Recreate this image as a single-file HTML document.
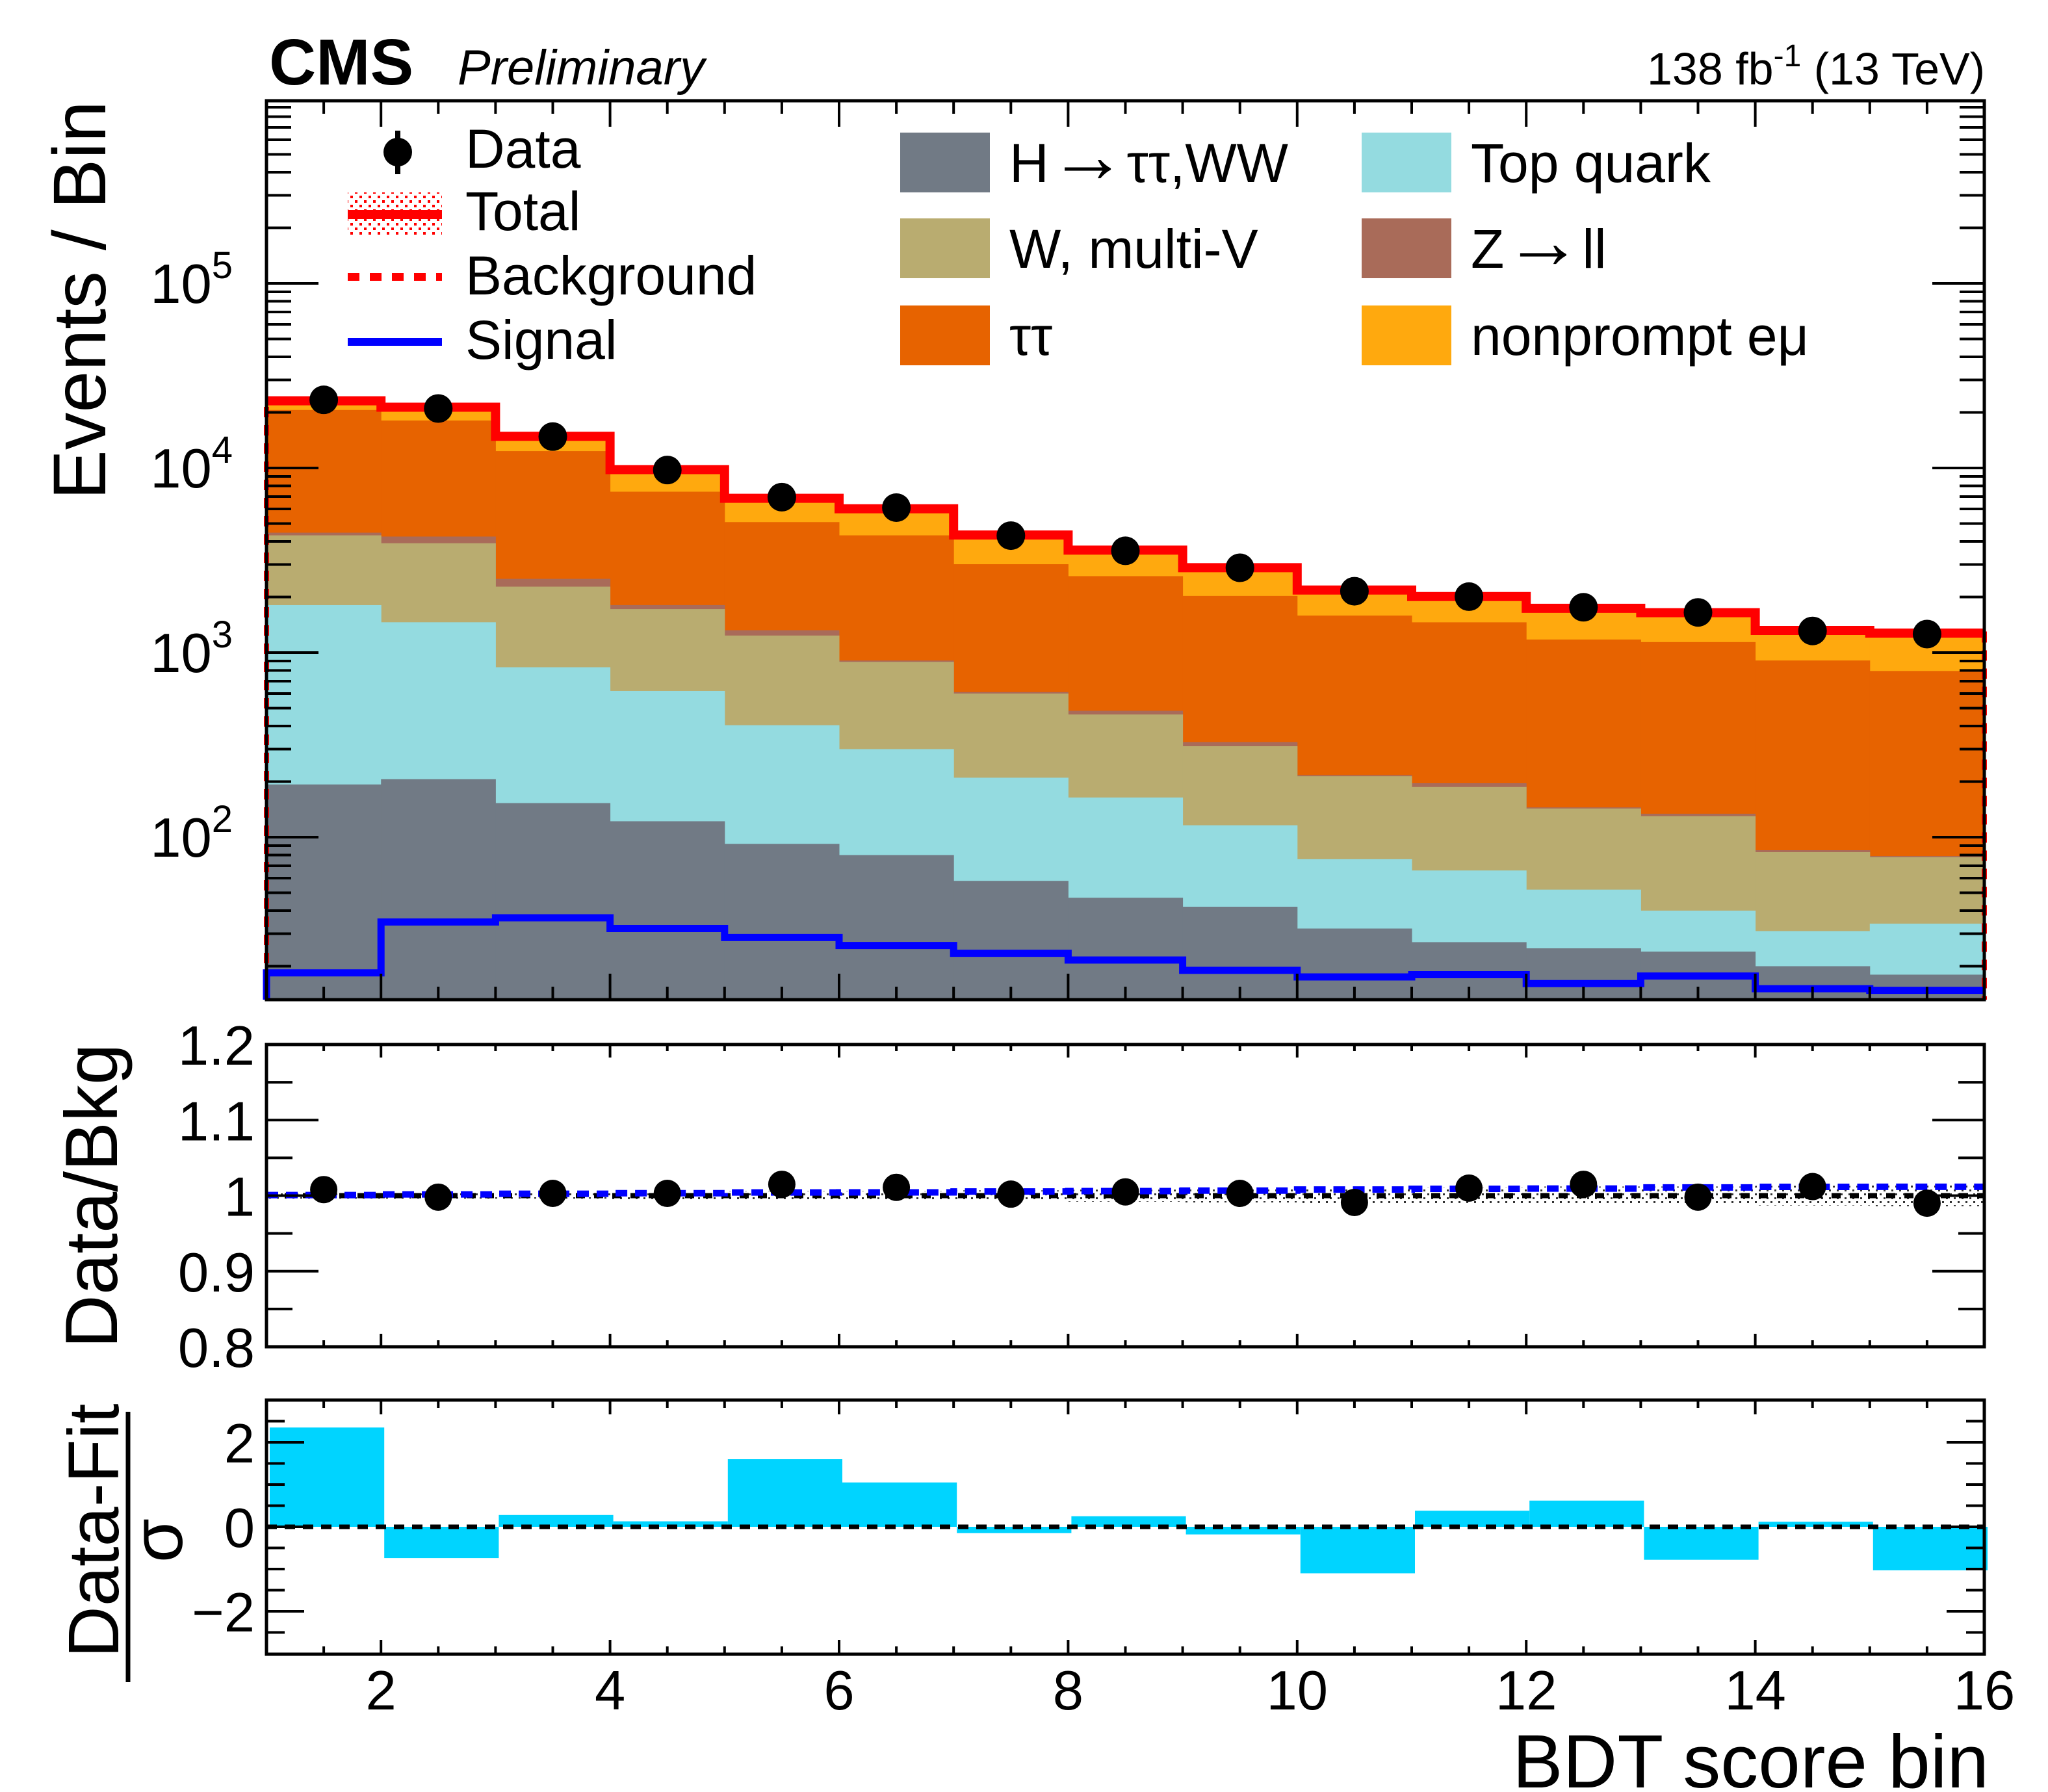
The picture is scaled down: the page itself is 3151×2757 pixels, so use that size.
<!DOCTYPE html>
<html><head><meta charset="utf-8"><style>
html,body{margin:0;padding:0;background:#fff;}
svg{display:block;font-family:"Liberation Sans",Arial,sans-serif;}
</style></head><body>
<svg id="chart" width="3151" height="2757" viewBox="0 0 3151 2757" xmlns="http://www.w3.org/2000/svg">
<defs>
<pattern id="dots" width="12" height="12" patternUnits="userSpaceOnUse"><rect x="0" y="0" width="3" height="3" fill="#333"/><rect x="6" y="6" width="3" height="3" fill="#333"/></pattern>
<pattern id="reddots" width="14" height="14" patternUnits="userSpaceOnUse"><rect x="0" y="0" width="4" height="4" fill="#f00"/><rect x="7" y="7" width="4" height="4" fill="#f00"/></pattern>
</defs>
<g id="g-main"></g>
<g id="g-ratio"></g>
<g id="g-pull"></g>
<g id="g-text">
<text x="414" y="130" font-size="100" font-weight="bold">CMS</text>
<text x="704" y="130" font-size="76" font-style="italic">Preliminary</text>
<text x="3054" y="130" font-size="70" text-anchor="end">138 fb<tspan dy="-28" font-size="48">-1</tspan><tspan dy="28"> (13 TeV)</tspan></text>
<text transform="translate(162,462) rotate(-90)" font-size="115" text-anchor="middle">Events / Bin</text>
<text transform="translate(180,1840) rotate(-90)" font-size="114" text-anchor="middle">Data/Bkg</text>
<text transform="translate(182,2355) rotate(-90)" font-size="110" text-anchor="middle">Data-Fit</text>
<line x1="197" y1="2172" x2="197" y2="2588" stroke="#000" stroke-width="7"/>
<text transform="translate(280,2370) rotate(-90)" font-size="110" text-anchor="middle">σ</text>
<text x="3060" y="2750" font-size="116" text-anchor="end">BDT score bin</text>
</g>
<g id="g-legend"></g>
</svg>
<script>
const binEdges = [1,2,3,4,5,6,7,8,9,10,11,12,13,14,15,16];
const hWW   = [193,206,153,122,92,80,58,47,42,32,27,25,24,20,18];
const topQ  = [1615,1254,680,498,312,220,152,117,74,44,39,27,16,11,16];
const wMultiV = [2508,2450,1443,1100,833,591,390,298,195,138,121,91,90,52,44];
const zll   = [146,342,233,89,85,15,11,22,16,3,9,2,4,2,1];
const tautau= [16150,13830,9830,5630,3770,3410,2400,2110,1700,1370,1263,1032,1006,821,716];
const nonprompt = [2490,3230,2470,2330,1730,1670,1300,975,838,578,535,544,487,396,465];
const signal = [18.4,34.7,36.6,32,28.6,25.9,23.5,21.6,19,17.5,18,16.1,17.7,15.1,14.8];
const dataVals = [23400,21000,14800,9750,6950,6100,4300,3560,2880,2150,2010,1760,1650,1310,1260];
const ratioVals = [1.008,0.998,1.003,1.003,1.015,1.011,1.002,1.005,1.003,0.991,1.010,1.015,0.998,1.012,0.990];
const ratioErr = [0.004,0.004,0.004,0.005,0.006,0.006,0.007,0.008,0.009,0.010,0.011,0.012,0.012,0.013,0.014];
const pullVals = [2.35,-0.74,0.28,0.13,1.6,1.05,-0.15,0.25,-0.18,-1.1,0.38,0.62,-0.78,0.12,-1.03];
const xTickLabels = [2,4,6,8,10,12,14,16];
const ratioTickLabels = ["0.8","0.9","1","1.1","1.2"];
const pullTickLabels = [-2,0,2];

const NS="http://www.w3.org/2000/svg";
const L=410,R=3053;
const MT=155,MB=1538, RT=1607,RB=2072, PT=2154,PB=2545;
const X=v=>L+(v-1)*(R-L)/15;
const Ymain=v=>436-(Math.log10(v)-5)*284;
const Yr=v=>RB-(v-0.8)/0.4*(RB-RT);
const Yp=v=>2349-v*65;
function el(parent,tag,attrs){const e=document.createElementNS(NS,tag);for(const k in attrs)e.setAttribute(k,attrs[k]);parent.appendChild(e);return e;}
const gM=document.getElementById('g-main'),gR=document.getElementById('g-ratio'),gP=document.getElementById('g-pull'),gL=document.getElementById('g-legend');
const nb=binEdges.length-1;

const procs=[[hWW,'#717a85','h-tautau-ww'],[topQ,'#94dbe0','top-quark'],[wMultiV,'#b9ac70','w-multi-v'],[zll,'#a96b59','z-ll'],[tautau,'#e76300','tautau'],[nonprompt,'#ffa90e','nonprompt-emu']];
const cum=new Array(nb).fill(0);
const levels=[];
procs.forEach(p=>{const lo=cum.slice();for(let i=0;i<nb;i++)cum[i]+=p[0][i];levels.push([lo,cum.slice(),p[1],p[2]]);});
for(let k=levels.length-1;k>=0;k--){
  const [lo,hi,col,name]=levels[k];
  for(let i=0;i<nb;i++){
    const y=Math.max(MT,Ymain(hi[i]));
    const r=el(gM,'rect',{x:X(binEdges[i]),y:y,width:X(binEdges[i+1])-X(binEdges[i])+0.5,height:MB-y,fill:col});
    
    
  }
}
function stepPath(vals,yf){let d='';for(let i=0;i<nb;i++){const y=yf(vals[i]);d+=(i?'L':'M')+X(binEdges[i])+','+y+'L'+X(binEdges[i+1])+','+y;}return d;}
const bkg=cum.slice();
const bp=el(gM,'path',{d:'M'+X(1)+','+MB+'L'+stepPath(bkg,Ymain).slice(1)+'L'+X(16)+','+MB,fill:'none',stroke:'#f00','stroke-width':8,'stroke-dasharray':'16,12'});


const total=bkg.map((b,i)=>b+signal[i]);
const tp=el(gM,'path',{d:stepPath(total,Ymain),fill:'none',stroke:'#f00','stroke-width':14});


const sp=el(gM,'path',{d:'M'+X(1)+','+MB+'L'+stepPath(signal,Ymain).slice(1),fill:'none',stroke:'#00f','stroke-width':11});


for(let i=0;i<nb;i++){
  const cx=(X(binEdges[i])+X(binEdges[i+1]))/2,cy=Ymain(dataVals[i]);
  const c=el(gM,'circle',{cx:cx,cy:cy,r:22,fill:'#000'});
  
  
}
function frame(g,t,b,name){const f=el(g,'rect',{x:L,y:t,width:R-L,height:b-t,fill:'none',stroke:'#000','stroke-width':5});}
function xTicks(g,t,b,maj,min){
  for(let v=1.5;v<=15.5;v+=0.5){const big=(v%2===0);const len=big?maj:min;
    el(g,'line',{x1:X(v),y1:b,x2:X(v),y2:b-len,stroke:'#000','stroke-width':4});
    el(g,'line',{x1:X(v),y1:t,x2:X(v),y2:t+len,stroke:'#000','stroke-width':4});}
}
frame(gM,MT,MB,'main-frame');xTicks(gM,MT,MB,40,20);
for(let e=1;e<=6;e++)for(let m=1;m<=9;m++){const v=m*Math.pow(10,e);const y=Ymain(v);if(y<MT||y>MB)continue;const len=m===1?80:38;
  el(gM,'line',{x1:L,y1:y,x2:L+len,y2:y,stroke:'#000','stroke-width':4});el(gM,'line',{x1:R,y1:y,x2:R-len,y2:y,stroke:'#000','stroke-width':4});}
[2,3,4,5].forEach(e=>{const t=el(gM,'text',{x:358,y:Ymain(Math.pow(10,e))+30,'font-size':85,'text-anchor':'end'});t.textContent='10';
  const s=el(t,'tspan',{dy:-38,'font-size':58});s.textContent=e;
  });

const band=el(gR,'path',{d:'M'+X(1)+','+Yr(1+ratioErr[0])+stepPath(ratioErr.map(e=>1+e),Yr).replace(/^M/,'L')+'L'+X(16)+','+Yr(1-ratioErr[14])+(()=>{let d='';for(let i=nb-1;i>=0;i--){const y=Yr(1-ratioErr[i]);d+='L'+X(binEdges[i+1])+','+y+'L'+X(binEdges[i])+','+y;}return d;})()+'Z',fill:'url(#dots)'});


el(gR,'line',{x1:L,y1:Yr(1),x2:R,y2:Yr(1),stroke:'#000','stroke-width':8,'stroke-dasharray':'14,14'});
const sbRatio=signal.map((s,i)=>1+s/bkg[i]);
const br=el(gR,'path',{d:stepPath(sbRatio,Yr),fill:'none',stroke:'#00f','stroke-width':10,'stroke-dasharray':'18,12'});


for(let i=0;i<nb;i++){const cx=(X(binEdges[i])+X(binEdges[i+1]))/2;
  el(gR,'line',{x1:cx,y1:Yr(ratioVals[i]+ratioErr[i]),x2:cx,y2:Yr(ratioVals[i]-ratioErr[i]),stroke:'#000','stroke-width':7});
  const c=el(gR,'circle',{cx:cx,cy:Yr(ratioVals[i]),r:21,fill:'#000'});
  
  }
frame(gR,RT,RB,'ratio-frame');xTicks(gR,RT,RB,20,10);
for(let v=0.8;v<=1.2001;v+=0.05){const y=Yr(v);const big=Math.abs(v*10-Math.round(v*10))<1e-6;const len=big?80:40;
  el(gR,'line',{x1:L,y1:y,x2:L+len,y2:y,stroke:'#000','stroke-width':4});el(gR,'line',{x1:R,y1:y,x2:R-len,y2:y,stroke:'#000','stroke-width':4});}
ratioTickLabels.forEach(s=>{const t=el(gR,'text',{x:392,y:Yr(parseFloat(s))+31,'font-size':85,'text-anchor':'end'});t.textContent=s;
  });

for(let i=0;i<nb;i++){const v=pullVals[i];const y0=Yp(0),y1=Yp(v);
  const r=el(gP,'rect',{x:X(binEdges[i])+5,y:Math.min(y0,y1),width:X(binEdges[i+1])-X(binEdges[i]),height:Math.abs(y1-y0),fill:'#00d4ff'});
  
  }
el(gP,'line',{x1:L,y1:Yp(0),x2:R,y2:Yp(0),stroke:'#000','stroke-width':7,'stroke-dasharray':'16,12'});
frame(gP,PT,PB,'pull-frame');xTicks(gP,PT,PB,22,12);
for(let v=-2.5;v<=2.5;v+=0.5){const y=Yp(v);const big=Number.isInteger(v)&&v%2===0;const len=big?58:28;
  el(gP,'line',{x1:L,y1:y,x2:L+len,y2:y,stroke:'#000','stroke-width':4});el(gP,'line',{x1:R,y1:y,x2:R-len,y2:y,stroke:'#000','stroke-width':4});}
pullTickLabels.forEach(v=>{const t=el(gP,'text',{x:392,y:Yp(v)+31,'font-size':85,'text-anchor':'end'});t.textContent=(v<0?'\u22122':String(v));
  });
xTickLabels.forEach(v=>{const t=el(gP,'text',{x:X(v),y:2630,'font-size':85,'text-anchor':'middle'});t.textContent=v;
  });

function ltext(x,y,s,name){const t=el(gL,'text',{x:x,y:y,'font-size':84});
  const parts=s.split('\u2192');parts.forEach((p,i)=>{if(i>0){const a=el(t,'tspan',{'font-size':120});a.textContent='\u2192';}const q=el(t,'tspan',{});q.textContent=p;});return t;}
el(gL,'circle',{cx:612,cy:234,r:22,fill:'#000'});el(gL,'line',{x1:612,y1:201,x2:612,y2:268,stroke:'#000','stroke-width':8});
ltext(716,258,'Data','legend-data');
el(gL,'rect',{x:535,y:296,width:145,height:67,fill:'url(#reddots)'});el(gL,'line',{x1:535,y1:330,x2:680,y2:330,stroke:'#f00','stroke-width':14});
ltext(716,354,'Total','legend-total');
el(gL,'line',{x1:535,y1:426,x2:680,y2:426,stroke:'#f00','stroke-width':12,'stroke-dasharray':'18,16'});
ltext(716,453,'Background','legend-background');
el(gL,'line',{x1:535,y1:526,x2:680,y2:526,stroke:'#00f','stroke-width':12});
ltext(716,552,'Signal','legend-signal');
const legBoxes=[[1385,250,'#717a85','H\u2192\u03c4\u03c4,WW'],[1385,382,'#b9ac70','W, multi-V'],[1385,516,'#e76300','\u03c4\u03c4'],
 [2095,250,'#94dbe0','Top quark'],[2095,382,'#a96b59','Z\u2192ll'],[2095,516,'#ffa90e','nonprompt e\u03bc']];
legBoxes.forEach(b=>{const r=el(gL,'rect',{x:b[0],y:b[1]-46,width:138,height:92,fill:b[2]});
  
  ltext(b[0]+168,b[1]+30,b[3],'legend-entry');});
</script>
</body></html>
